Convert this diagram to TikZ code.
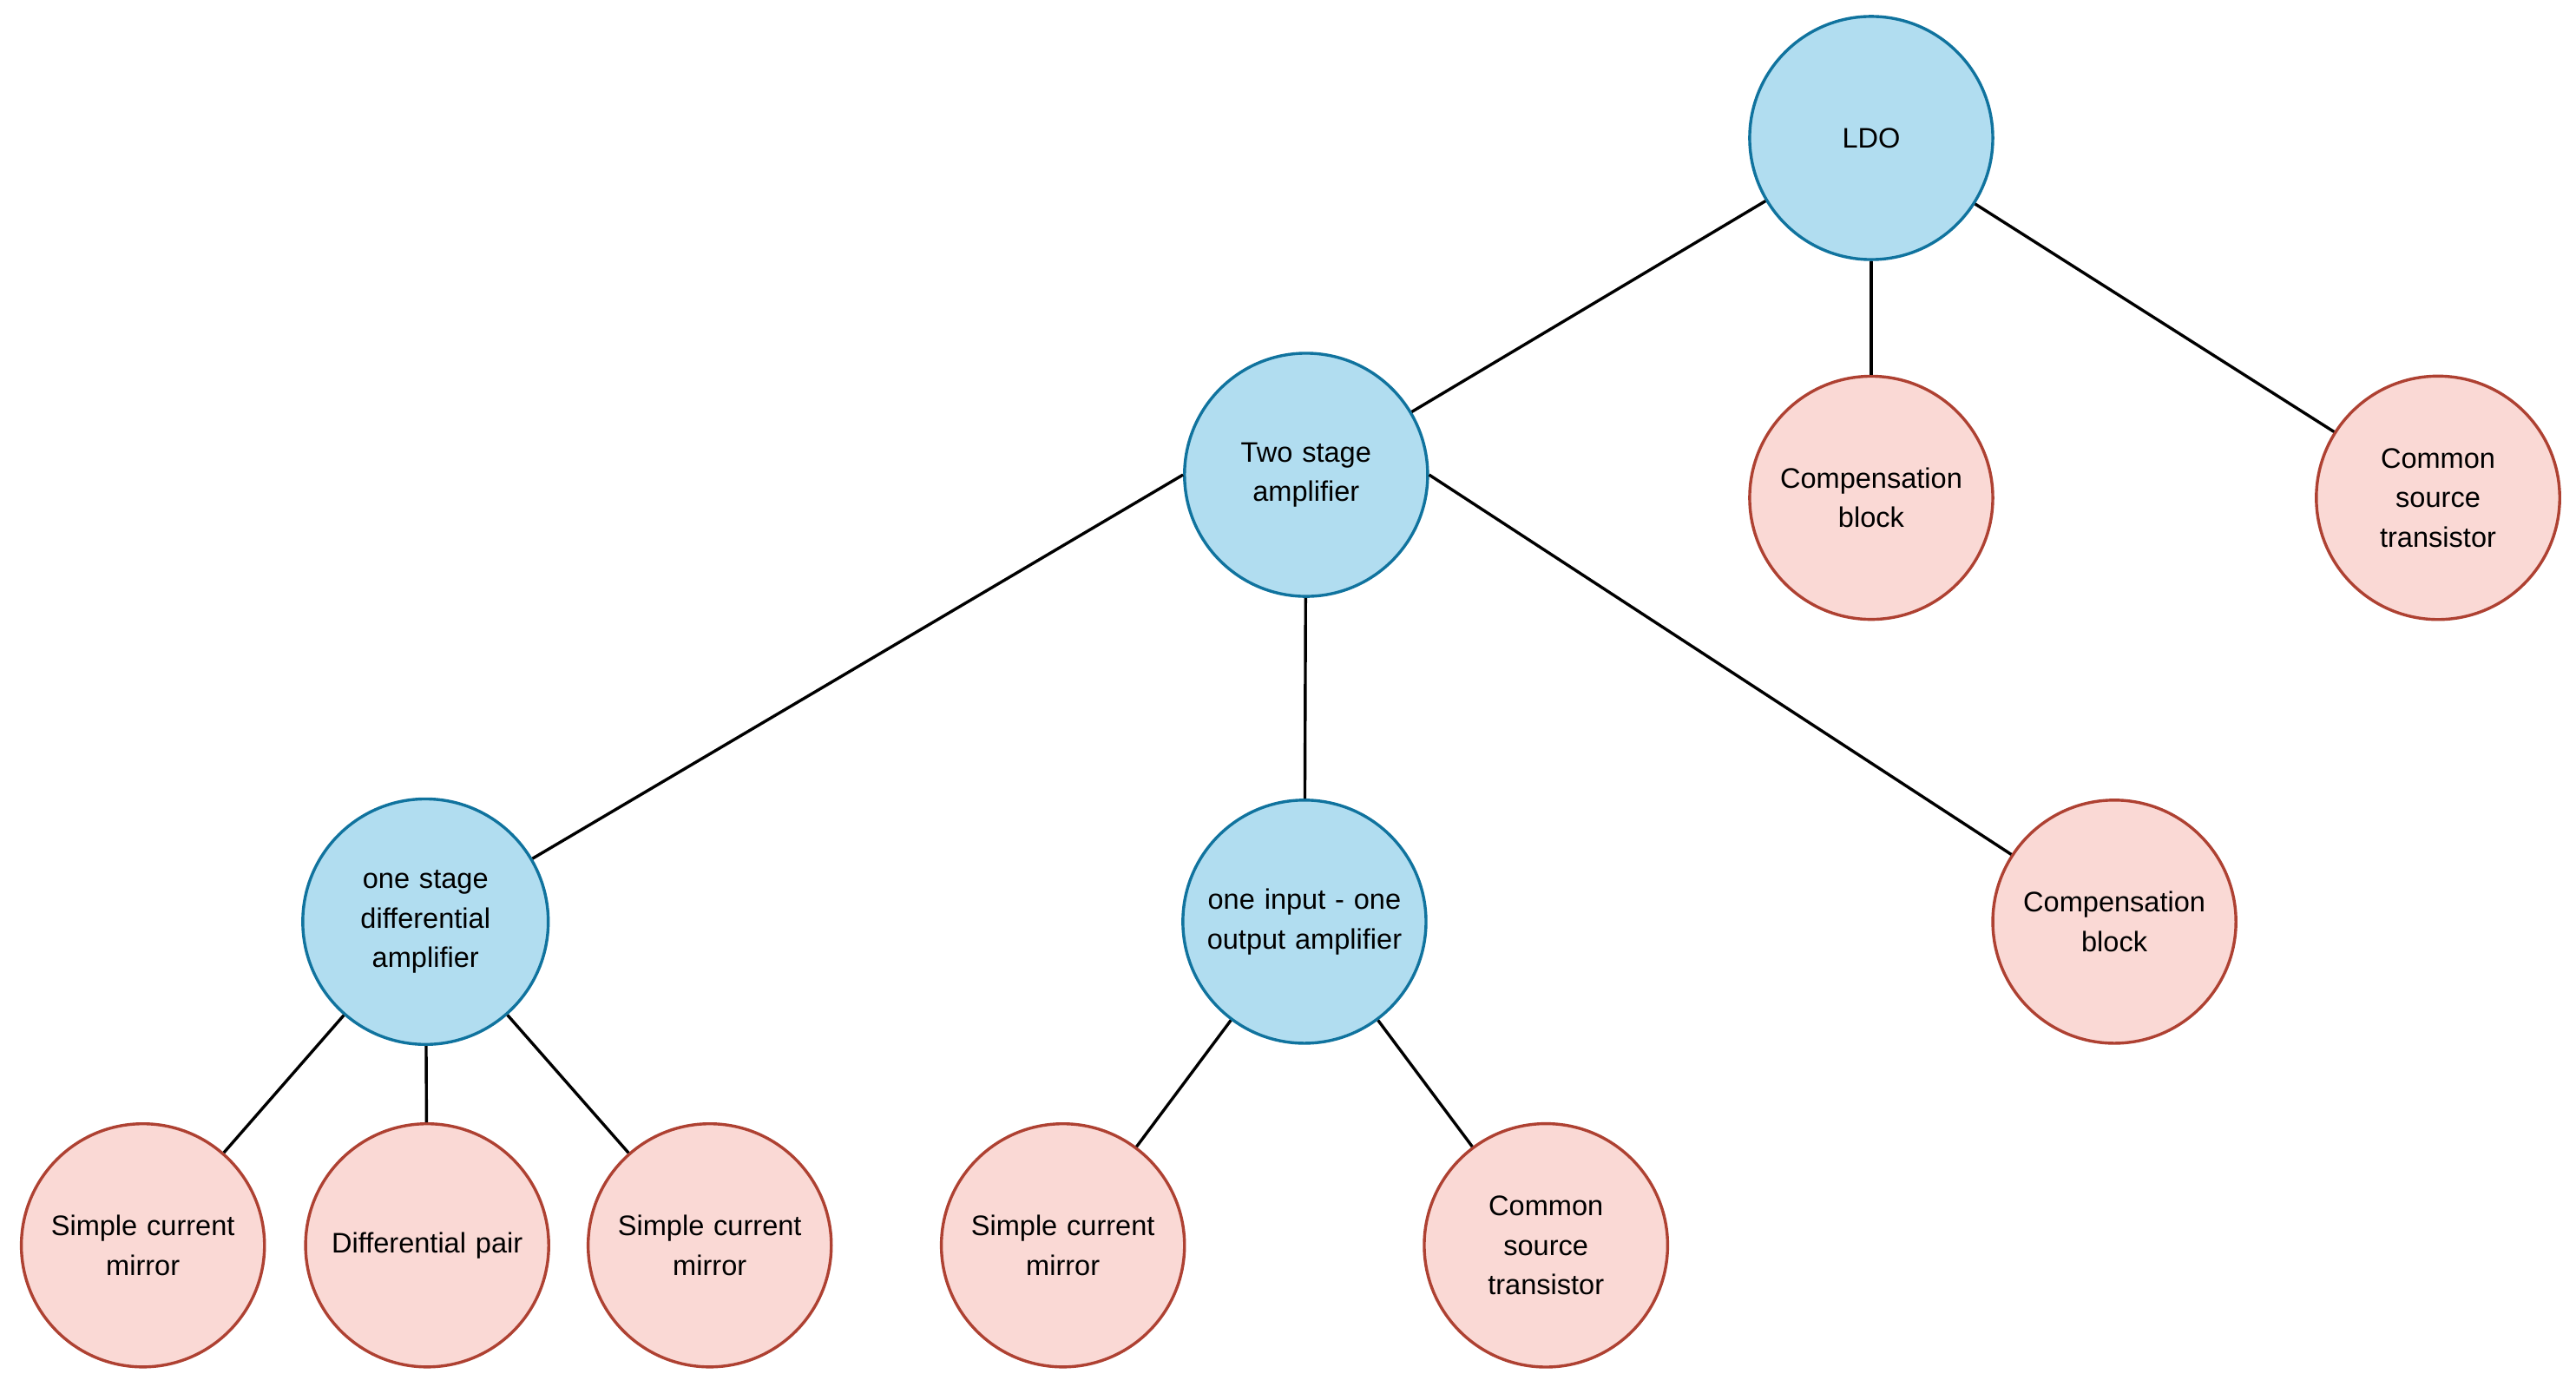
\documentclass[tikz,border=0pt]{standalone}
\usepackage{fontspec}
\setmainfont{Liberation Sans}
\definecolor{bfill}{HTML}{B1DDF0}
\definecolor{bline}{HTML}{10739E}
\definecolor{rfill}{HTML}{FAD9D5}
\definecolor{rline}{HTML}{AE4132}
\begin{document}
\begin{tikzpicture}[x=0.5pt,y=-0.5pt,
  base/.style={circle,minimum size=74pt,inner sep=0pt,line width=0.9pt,align=center,font=\fontsize{8.6}{12}\selectfont,text width=68pt},
  blue/.style={base,fill=bfill,draw=bline},
  red/.style={base,fill=rfill,draw=rline},
  edge/.style={line width=0.9pt,black}]
\useasboundingbox (0,0) rectangle (1568,844);
\node[blue] (ldo) at (1139,84) {LDO};
\node[blue] (two) at (795,289) {Two stage\\amplifier};
\node[red] (cb1) at (1139,303) {Compensation\\block};
\node[red] (cs1) at (1484,303) {Common\\source\\transistor};
\node[blue] (osd) at (259,561) {one stage\\differential\\amplifier};
\node[blue] (oio) at (794,561) {one input - one\\output amplifier};
\node[red] (cb2) at (1287,561) {Compensation\\block};
\node[red] (l1) at (87,758) {Simple current\\mirror};
\node[red] (l2) at (260,758) {Differential pair};
\node[red] (l3) at (432,758) {Simple current\\mirror};
\node[red] (l4) at (647,758) {Simple current\\mirror};
\node[red] (l5) at (941,758) {Common\\source\\transistor};
\draw[edge] (ldo) -- (two);
\draw[edge] (ldo) -- (cb1);
\draw[edge] (ldo) -- (cs1);
\draw[edge] (two.west) -- (osd);
\draw[edge] (two) -- (oio);
\draw[edge] (two.east) -- (cb2);
\draw[edge] (osd) -- (l1);
\draw[edge] (osd) -- (l2);
\draw[edge] (osd) -- (l3);
\draw[edge] (oio) -- (l4);
\draw[edge] (oio) -- (l5);
\end{tikzpicture}
\end{document}
